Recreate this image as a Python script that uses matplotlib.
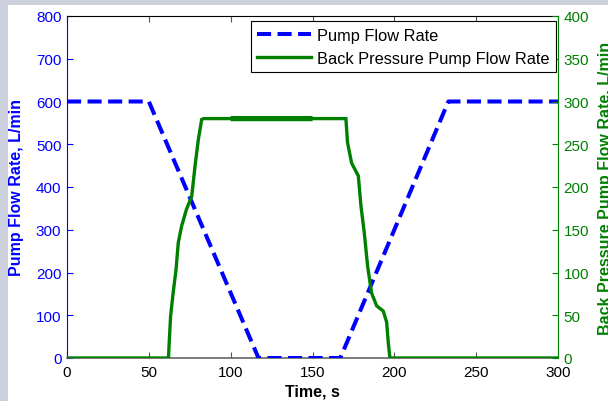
import matplotlib
matplotlib.use("Agg")
import matplotlib.pyplot as plt
from matplotlib.patches import Rectangle
import numpy as np

# ---- data ----
time_pump = [0, 50, 117, 167, 233, 300]
pump_flow = [600, 600, 0, 0, 600, 600]

time_bp = [0, 62, 62.5, 63.3, 64.9, 66.6, 68, 70, 73, 76.2, 78.2, 80.2, 82.3, 83.5,
           100, 150, 170.4, 171.4, 173.9, 178, 179.6, 181.6, 183.7, 186.1, 189.2,
           193.2, 195.3, 196.3, 197.3, 300]
bp_flow = [0, 0, 20, 49, 77, 103, 135, 154, 174, 189, 224, 255, 279, 280,
           280, 280, 280, 252, 228, 213, 178, 147, 107, 76, 61,
           55, 42, 18, 0, 0]

x_ticks = [0, 50, 100, 150, 200, 250, 300]
left_ticks = [0, 100, 200, 300, 400, 500, 600, 700, 800]
right_ticks = [0, 50, 100, 150, 200, 250, 300, 350, 400]

labels = ["Pump Flow Rate", "Back Pressure Pump Flow Rate"]
xlabel = "Time, s"
ylabel_left = "Pump Flow Rate, L/min"
ylabel_right = "Back Pressure Pump Flow Rate, L/min"

# ---- style ----
plt.rcParams['font.family'] = ['Liberation Sans', 'DejaVu Sans']
BLUE = '#0000ff'
GREEN = '#008000'
FS = 11

fig = plt.figure(figsize=(6.08, 4.02), dpi=100, facecolor='#cbd0dc')
fig.patches.append(Rectangle((8/608, 0), 600/608, 396/402, transform=fig.transFigure,
                             facecolor='white', edgecolor='none', zorder=-10))

L, R, B, T = 67/608, 558/608, (402-359)/402, (402-17)/402
ax1 = fig.add_axes([L, B, R-L, T-B])
ax2 = ax1.twinx()

ax1.plot(time_pump, pump_flow, color=BLUE, lw=2.9, linestyle=(0, (3.5, 1.6)),
         label=labels[0], zorder=3, snap=False)

tb = np.array(time_bp)
vb = np.array(bp_flow)
l2, = ax2.plot(tb, vb, color=GREEN, lw=2.4, label=labels[1], zorder=3,
               solid_joinstyle='miter', snap=False)
mask = (tb >= 100) & (tb <= 150)
ax2.plot(tb[mask], vb[mask], color=GREEN, lw=3.8, zorder=4,
         solid_capstyle='butt', snap=False)

ax1.set_xlim(0, 300)
ax1.set_ylim(0, 800)
ax2.set_ylim(0, 400)
ax1.set_xticks(x_ticks)
ax1.set_yticks(left_ticks)
ax2.set_yticks(right_ticks)

ax2.set_facecolor('none')
ax1.set_facecolor('white')

ax1.spines['left'].set_color(BLUE)
ax1.spines['right'].set_visible(False)
ax1.spines['top'].set_color('black')
ax1.spines['bottom'].set_color('#666666')
ax1.spines['bottom'].set_linewidth(1.2)
for s in ('left', 'top', 'bottom'):
    ax2.spines[s].set_visible(False)
ax2.spines['right'].set_color(GREEN)

ax1.tick_params(axis='x', direction='in', top=True, length=4, width=0.8,
                color='#555555', labelsize=FS, pad=5, labelcolor='black')
ax1.tick_params(axis='y', direction='in', length=4, width=0.8, color=BLUE,
                labelcolor=BLUE, labelsize=FS, pad=4)
ax2.tick_params(axis='y', direction='in', length=4, width=0.8, color=GREEN,
                labelcolor=GREEN, labelsize=FS, pad=4)

ax1.set_xlabel(xlabel, fontsize=11.5, fontweight='bold', labelpad=3)
ax1.set_ylabel(ylabel_left, fontsize=11.5, fontweight='bold', color=BLUE)
ax1.yaxis.set_label_coords(-0.088, 0.5)
ax2.set_ylabel(ylabel_right, fontsize=11.5, fontweight='bold', color=GREEN)
ax2.yaxis.set_label_coords(1.081, 0.5)

h1, _ = ax1.get_legend_handles_labels()
leg = ax2.legend([h1[0], l2], labels, loc='upper right',
                 bbox_to_anchor=(0.996, 0.985), borderaxespad=0,
                 prop={'size': 11.8}, frameon=True, fancybox=False, shadow=False,
                 handlelength=3.3, handletextpad=0.35, borderpad=0.4,
                 labelspacing=0.5, framealpha=1)
leg.get_frame().set_edgecolor('black')
leg.get_frame().set_linewidth(0.8)

fig.savefig('out.png', dpi=100, facecolor=fig.get_facecolor())
